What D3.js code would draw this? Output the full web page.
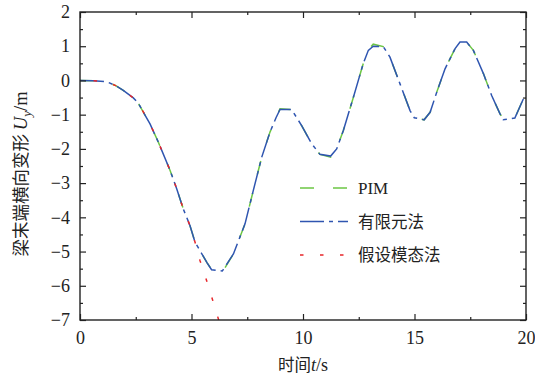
<!DOCTYPE html>
<html>
<head>
<meta charset="utf-8">
<script src="https://cdn.jsdelivr.net/npm/d3@7"></script>
<style>
  body { margin: 0; background: #fff; }
  text { font-family: "Liberation Serif", "DejaVu Serif", serif; }
  .cjk { font-family: "Noto Sans CJK SC", sans-serif; }
</style>
</head>
<body>
<script>
// time axis (s) for FEM and PIM series
const time = [0, 0.6, 1.2, 1.6, 1.94, 2.39, 2.61, 3.14, 3.51, 4.04, 4.34, 4.63, 4.93, 5.16, 5.45, 5.7, 5.9, 6.38,
  6.88, 7.4, 7.77, 8.15, 8.52, 8.79, 8.97, 9.49, 9.94, 10.39, 10.76, 11.24, 11.51, 11.81, 12.26, 12.7, 12.93,
  13.15, 13.6, 13.9, 14.35, 14.8, 14.99, 15.43, 15.7, 16.0, 16.37, 16.82, 17.04, 17.34, 17.64, 18.09, 18.46,
  18.83, 18.98, 19.5, 19.88, 20]
// 有限元法
const femU = [0, -0.01, -0.04, -0.15, -0.29, -0.51, -0.66, -1.27, -1.8, -2.63, -3.17, -3.75, -4.24, -4.73, -5.05,
  -5.33, -5.53, -5.57, -5.07, -4.19, -3.22, -2.24, -1.51, -1.09, -0.85, -0.85, -1.32, -1.85, -2.16, -2.21, -2.0,
  -1.46, -0.49, 0.49, 0.88, 1.0, 0.99, 0.68, -0.1, -0.88, -1.09, -1.15, -0.93, -0.34, 0.34, 0.93, 1.12, 1.12,
  0.88, 0.2, -0.44, -0.97, -1.15, -1.1, -0.54, -0.45]
// PIM
const pimU = [0, -0.01, -0.04, -0.15, -0.29, -0.51, -0.66, -1.27, -1.8, -2.63, -3.17, -3.75, -4.24, -4.73, -5.05,
  -5.33, -5.52, -5.6, -5.07, -4.19, -3.22, -2.24, -1.51, -1.09, -0.83, -0.85, -1.32, -1.85, -2.16, -2.24, -2.0,
  -1.46, -0.49, 0.49, 0.9, 1.06, 0.99, 0.68, -0.1, -0.88, -1.09, -1.15, -0.93, -0.34, 0.34, 0.93, 1.17, 1.12,
  0.88, 0.2, -0.44, -0.97, -1.13, -1.1, -0.54, -0.45]
// 假设模态法
const modalTime = [0, 0.6, 1.2, 1.6, 1.94, 2.39, 2.61, 3.14, 3.51, 4.04, 4.34, 4.63, 4.93, 5.16, 5.38, 5.68, 5.93, 6.22]
const modalU = [0, -0.01, -0.04, -0.15, -0.29, -0.51, -0.66, -1.27, -1.8, -2.63, -3.17, -3.75, -4.24, -4.73, -5.26,
  -5.85, -6.38, -7.0]

const xTicks = [0, 5, 10, 15, 20]
const yTicks = [2, 1, 0, -1, -2, -3, -4, -5, -6, -7]

const W = 535, H = 378
const margin = {top: 12, right: 9, bottom: 58, left: 80}
const width = W - margin.left - margin.right,
  height = H - margin.top - margin.bottom

const svg = d3.select('body').append('svg')
  .attr('width', W)
  .attr('height', H)
const g = svg.append('g')
  .attr('transform', `translate(${margin.left}, ${margin.top})`)

const x = d3.scaleLinear().domain([0, 20]).range([0, width])
const y = d3.scaleLinear().domain([-7, 2]).range([height, 0])

g.append('clipPath').attr('id', 'clip')
  .append('rect').attr('width', width).attr('height', height)

// series
const line = d3.line().x(d => x(d[0])).y(d => y(d[1]))
const series = [
  {name: 'PIM', t: time, u: pimU, color: '#6cc644', dash: '14,19', width: 1.5},
  {name: '有限元法', t: time, u: femU, color: '#2f55b0', dash: '24,5,4,5', width: 1.5},
  {name: '假设模态法', t: modalTime, u: modalU, color: '#e8262a', dash: '3.5,16.5', width: 1.5, endDash: true}
]
const plot = g.append('g').attr('clip-path', 'url(#clip)')
series.forEach(s => {
  const p = plot.append('path')
    .datum(d3.zip(s.t, s.u))
    .attr('d', line)
    .attr('fill', 'none')
    .attr('stroke', s.color)
    .attr('stroke-width', s.width)
    .attr('stroke-dasharray', s.dash)
  if (s.endDash) {
    // line the pattern up so that a dash sits on the end of the curve
    const L = p.node().getTotalLength()
    p.attr('stroke-dashoffset', 3.5 - (L % 20))
  }
})

// axes, ticks inward on all four sides
const fmt = d3.format('d')
const minorX = d3.range(2.5, 20, 5), minorY = d3.range(-6.5, 2, 1)
g.append('g').attr('transform', `translate(0, ${height})`)
  .call(d3.axisBottom(x).tickValues(xTicks).tickFormat(fmt).tickSizeInner(-6).tickSizeOuter(0).tickPadding(11))
g.append('g').attr('transform', `translate(0, ${height})`)
  .call(d3.axisBottom(x).tickValues(minorX).tickFormat('').tickSizeInner(-3).tickSizeOuter(0))
g.append('g')
  .call(d3.axisTop(x).tickValues(xTicks).tickFormat('').tickSizeInner(-6).tickSizeOuter(0))
g.append('g')
  .call(d3.axisTop(x).tickValues(minorX).tickFormat('').tickSizeInner(-3).tickSizeOuter(0))
g.append('g')
  .call(d3.axisLeft(y).tickValues(yTicks).tickFormat(fmt).tickSizeInner(-6).tickSizeOuter(0).tickPadding(10))
g.append('g')
  .call(d3.axisLeft(y).tickValues(minorY).tickFormat('').tickSizeInner(-3).tickSizeOuter(0))
g.append('g').attr('transform', `translate(${width}, 0)`)
  .call(d3.axisRight(y).tickValues(yTicks).tickFormat('').tickSizeInner(-6).tickSizeOuter(0))
g.append('g').attr('transform', `translate(${width}, 0)`)
  .call(d3.axisRight(y).tickValues(minorY).tickFormat('').tickSizeInner(-3).tickSizeOuter(0))

g.selectAll('.domain').remove()
g.selectAll('.tick line').attr('stroke', '#222').attr('stroke-width', 1.2)
g.selectAll('.tick text')
  .attr('font-family', null)
  .style('font-family', '"Liberation Serif", serif')
  .style('font-size', '18px')
  .attr('fill', '#222')

g.append('rect')
  .attr('width', width).attr('height', height)
  .attr('fill', 'none').attr('stroke', '#222').attr('stroke-width', 1.4)

// legend
const legend = g.append('g').attr('transform', `translate(${300 - margin.left}, ${188 - margin.top})`)
series.forEach((s, i) => {
  const row = legend.append('g').attr('transform', `translate(0, ${i * 33.5})`)
  row.append('line')
    .attr('x1', 0).attr('x2', 48)
    .attr('stroke', s.color)
    .attr('stroke-width', s.width)
    .attr('stroke-dasharray', s.dash)
  row.append('text')
    .attr('x', 58).attr('y', 6)
    .attr('class', i === 0 ? null : 'cjk')
    .style('font-size', i === 0 ? '17px' : '16.5px')
    .attr('fill', '#222')
    .text(s.name)
})

// axis titles
const xl = svg.append('text')
  .attr('x', 303).attr('y', 371)
  .attr('text-anchor', 'middle')
  .attr('fill', '#222')
  .style('font-size', '16.5px')
xl.append('tspan').attr('class', 'cjk').text('时间')
xl.append('tspan').style('font-style', 'italic').style('font-size', '18px').text('t')
xl.append('tspan').style('font-size', '18px').text('/s')

const yl = svg.append('text')
  .attr('transform', 'translate(27, 174) rotate(-90)')
  .attr('text-anchor', 'middle')
  .attr('fill', '#222')
  .style('font-size', '17.5px')
yl.append('tspan').attr('class', 'cjk').text('梁末端横向变形 ')
yl.append('tspan').style('font-style', 'italic').style('font-size', '18.5px').text('U')
yl.append('tspan').style('font-style', 'italic').style('font-size', '13px').attr('dy', 4).text('y')
yl.append('tspan').style('font-size', '18.5px').attr('dy', -4).text('/m')
</script>
</body>
</html>
